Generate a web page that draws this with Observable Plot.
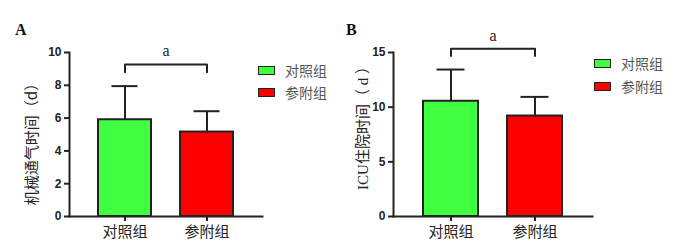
<!DOCTYPE html>
<html>
<head>
<meta charset="utf-8">
<script src="https://cdn.jsdelivr.net/npm/d3@7"></script>
<script src="https://cdn.jsdelivr.net/npm/@observablehq/plot@0.6"></script>
<style>
  html, body { margin: 0; padding: 0; background: #fff; }
  #wrap { position: relative; width: 698px; height: 251px; overflow: hidden; }
  .panel { position: absolute; top: 0; }
  .letter { position: absolute; font: bold 16px "Liberation Serif", serif; color: #111; }
  .leg { position: absolute; display: flex; align-items: center; font: 14px "Noto Sans CJK SC", sans-serif; color: #555; white-space: nowrap; }
  .sw { width: 15px; height: 7px; border: 1.5px solid #222; margin-right: 10px; }
</style>
</head>
<body>
<div id="wrap"></div>
<script>
// ---- data ----
const groups = ["对照组", "参附组"];
const colors = ["#40ff40", "#ff0000"];

// Panel A: mechanical ventilation time (d)
const ventMean = [5.9, 5.15];
const ventSD = [2.05, 1.27];
const ventTicks = [0, 2, 4, 6, 8, 10];
const ventDomain = [0, 10];
const ventBracket = [8.8, 9.27];
const ventSigY = 10.1;
const ventLabel = "机械通气时间（d）";

// Panel B: ICU stay (d)
const icuMean = [10.54, 9.19];
const icuSD = [2.9, 1.75];
const icuTicks = [0, 5, 10, 15];
const icuDomain = [0, 15];
const icuBracket = [14.67, 15.35];
const icuSigY = 16.5;
const icuLabel = "ICU住院时间（ d ）";

const sigLabel = "a";

function panel(o) {
  const rows = groups.map((g, i) => ({group: g, mean: o.mean[i], top: o.mean[i] + o.sd[i]}));
  const br = [
    {g: groups[0], y: o.bracket[0]}, {g: groups[0], y: o.bracket[1]},
    {g: groups[1], y: o.bracket[1]}, {g: groups[1], y: o.bracket[0]}
  ];
  return Plot.plot({
    width: o.width, height: 251,
    marginLeft: o.marginLeft, marginRight: o.marginRight, marginTop: 52, marginBottom: 35,
    style: {background: "transparent", overflow: "visible"},
    x: {domain: groups, paddingInner: 0.35, paddingOuter: 0.35, align: 0.5, label: null},
    y: {domain: o.domain, label: null},
    color: {domain: groups, range: colors},
    marks: [
      Plot.barY(rows, {x: "group", y: "mean", fill: "group", stroke: "#222", strokeWidth: 2}),
      Plot.ruleX(rows, {x: "group", y1: "mean", y2: "top", stroke: "#222", strokeWidth: 2}),
      Plot.tickY(rows, {x: "group", y: "top", stroke: "#222", strokeWidth: 2, insetLeft: 13.5, insetRight: 13.5}),
      Plot.line(br, {x: "g", y: "y", stroke: "#222", strokeWidth: 2}),
      Plot.text([sigLabel], {y: () => o.sigY, frameAnchor: "middle", fontSize: 16, fontFamily: "Liberation Serif, serif", fill: "#222"}),
      Plot.text([o.label], {frameAnchor: "left", textAnchor: "middle", dx: o.labelDx, dy: o.labelDy, rotate: -90, fontSize: 15, fontFamily: o.labelFont, fill: "#222"}),
      Plot.axisY({ticks: o.ticks, tickSize: 5, tickPadding: 3, stroke: "#222", strokeWidth: 2, label: null,
        fontSize: 12, fontWeight: "bold", fontFamily: "Liberation Sans, Arial, sans-serif", fill: "#222"}),
      Plot.axisX({tickSize: 5, tickPadding: 5, stroke: "#222", strokeWidth: 2, label: null,
        fontSize: 15, fontFamily: "Noto Sans CJK SC, sans-serif", fill: "#222"}),
      Plot.frame({anchor: "left", stroke: "#222", strokeWidth: 2}),
      Plot.frame({anchor: "bottom", stroke: "#222", strokeWidth: 2})
    ]
  });
}

const wrap = document.getElementById("wrap");

function addPanel(left, chart) {
  const d = document.createElement("div");
  d.className = "panel";
  d.style.left = left + "px";
  d.appendChild(chart);
  wrap.appendChild(d);
}

addPanel(0, panel({
  width: 340, marginLeft: 69, marginRight: 78,
  mean: ventMean, sd: ventSD, ticks: ventTicks, domain: ventDomain,
  bracket: ventBracket, sigY: ventSigY, label: ventLabel,
  labelFont: "Noto Sans CJK SC, sans-serif", labelDx: -37, labelDy: 6
}));
addPanel(340, panel({
  width: 358, marginLeft: 53, marginRight: 106,
  mean: icuMean, sd: icuSD, ticks: icuTicks, domain: icuDomain,
  bracket: icuBracket, sigY: icuSigY, label: icuLabel,
  labelFont: "Liberation Serif, Noto Sans CJK SC, serif", labelDx: -30, labelDy: -10
}));

function addText(cls, text, left, top) {
  const d = document.createElement("div");
  d.className = cls;
  d.textContent = text;
  d.style.left = left + "px";
  d.style.top = top + "px";
  wrap.appendChild(d);
}
addText("letter", "A", 15, 21);
addText("letter", "B", 346, 21);

function addLegend(left, tops) {
  groups.forEach((g, i) => {
    const d = document.createElement("div");
    d.className = "leg";
    d.style.left = left + "px";
    d.style.top = tops[i] + "px";
    const sw = document.createElement("span");
    sw.className = "sw";
    sw.style.background = colors[i];
    d.appendChild(sw);
    d.appendChild(document.createTextNode(g));
    wrap.appendChild(d);
  });
}
addLegend(258, [60, 82]);
addLegend(594, [53, 76]);
</script>
</body>
</html>
